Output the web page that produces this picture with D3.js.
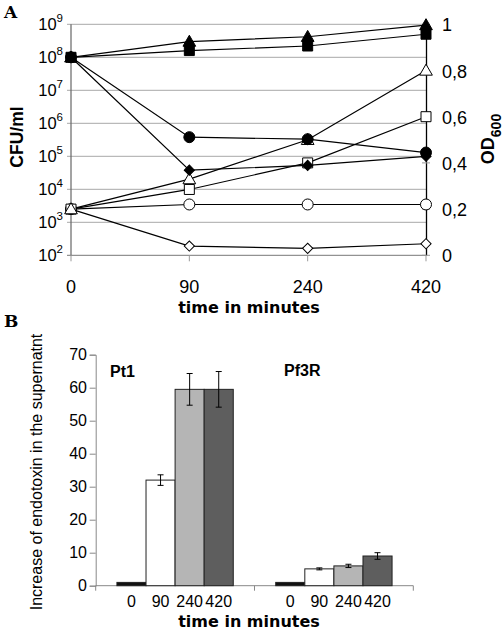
<!DOCTYPE html>
<html><head><meta charset="utf-8">
<script src="https://cdn.jsdelivr.net/npm/d3@7"></script>
<style>
body{margin:0;background:#fff;}
svg{display:block;}
text{font-family:"Liberation Sans",Arial,sans-serif;fill:#000;}
</style></head>
<body>
<svg id="c" width="504" height="630"></svg>
<script>
// ---------- Panel A data ----------
const categories = ["0","90","240","420"];
const cfuFilledTriangle = [1e8, 3.0e8, 4.2e8, 9.5e8];
const cfuFilledSquare   = [1e8, 1.6e8, 2.2e8, 5.0e8];
const cfuFilledCircle   = [1e8, 3.8e5, 3.3e5, 1.3e5];
const cfuFilledDiamond  = [1e8, 3.8e4, 5.3e4, 1.0e5];
const odOpenTriangle = [0.2, 0.33, 0.50, 0.80];
const odOpenSquare   = [0.2, 0.285, 0.40, 0.60];
const odOpenCircle   = [0.2, 0.22, 0.22, 0.22];
const odOpenDiamond  = [0.2, 0.04, 0.03, 0.05];
const leftExponents = [2,3,4,5,6,7,8,9];
const rightTicks = [0, 0.2, 0.4, 0.6, 0.8, 1];
const rightTickLabels = ["0","0,2","0,4","0,6","0,8","1"];

// ---------- Panel B data ----------
const strains = ["Pt1","Pf3R"];
const barTimes = ["0","90","240","420"];
const endotoxinPt1  = [1.0, 32, 59.5, 59.5];
const errorPt1      = [0, 1.6, 4.8, 5.4];
const endotoxinPf3R = [1.0, 5.1, 6.0, 9.0];
const errorPf3R     = [0, 0.3, 0.5, 1.0];
const yTicksB = [0,10,20,30,40,50,60,70];
const barColors = ["#111111","#ffffff","#b5b5b5","#5e5e5e"];

const svg = d3.select("#c");

// ================= Panel A =================
const A = {left:71, right:426, top:24.3, bottom:255.3};
const x = d3.scalePoint().domain(categories).range([A.left, A.right]);
const yL = d3.scaleLog().domain([1e2,1e9]).range([A.bottom, A.top]);
const yR = d3.scaleLinear().domain([0,1]).range([A.bottom, A.top]);

const gA = svg.append("g");
gA.append("g").selectAll("line").data(leftExponents).join("line")
  .attr("x1", A.left-4).attr("x2", A.right)
  .attr("y1", d=>yL(Math.pow(10,d))).attr("y2", d=>yL(Math.pow(10,d)))
  .attr("stroke", d=> d===2 ? "#777" : "#a8a8a8").attr("stroke-width",1);
gA.append("line").attr("x1",A.left).attr("x2",A.left).attr("y1",A.top).attr("y2",A.bottom)
  .attr("stroke","#666").attr("stroke-width",1.2);
const rAxis = d3.axisRight(yR).tickValues(rightTicks).tickSize(0).tickFormat("");
gA.append("g").attr("transform",`translate(${A.right},0)`).call(rAxis)
  .call(g=>g.select(".domain").attr("stroke","#000").attr("stroke-width",1.3));
gA.append("g").selectAll("line").data(rightTicks).join("line")
  .attr("x1",A.right-4).attr("x2",A.right+4)
  .attr("y1",d=>yR(d)).attr("y2",d=>yR(d)).attr("stroke","#999");
gA.append("g").selectAll("line").data(categories).join("line")
  .attr("x1",d=>x(d)).attr("x2",d=>x(d)).attr("y1",A.bottom).attr("y2",A.bottom+6)
  .attr("stroke","#999");

const lt = gA.append("g").selectAll("text").data(leftExponents).join("text")
  .attr("x", 63).attr("y", d=>yL(Math.pow(10,d))+6)
  .attr("text-anchor","end").style("font-size","16.5px");
lt.append("tspan").text("10");
lt.append("tspan").attr("dy",-8).style("font-size","11.5px").text(d=>d);

gA.append("g").selectAll("text").data(rightTicks).join("text")
  .attr("x", 442).attr("y", (d)=>yR(d)+7)
  .style("font-size","18px").text((d,i)=>rightTickLabels[i]);

gA.append("g").selectAll("text").data(categories).join("text")
  .attr("x", d=>x(d)).attr("y", 293).attr("text-anchor","middle")
  .style("font-size","18px").text(d=>d);

gA.append("text").attr("x",249).attr("y",313).attr("text-anchor","middle")
  .style("font-family","'DejaVu Sans',sans-serif").style("font-weight","bold").style("font-size","16px")
  .text("time in minutes");
gA.append("text").attr("transform","translate(23,137) rotate(-90)").attr("text-anchor","middle")
  .style("font-weight","bold").style("font-size","17.5px").text("CFU/ml");
const od = gA.append("text").attr("transform","translate(494,139) rotate(-90)").attr("text-anchor","middle")
  .style("font-weight","bold").style("font-size","18px");
od.append("tspan").text("OD");
od.append("tspan").attr("dy",7).style("font-size","14px").text("600");

gA.append("text").attr("x",4).attr("y",18)
  .style("font-family","'DejaVu Serif',serif").style("font-weight","bold").style("font-size","17px").text("A");

const seriesA = [
  {v:cfuFilledTriangle, axis:yL, sym:"tri", fill:"#000"},
  {v:cfuFilledSquare,   axis:yL, sym:"sq",  fill:"#000"},
  {v:cfuFilledCircle,   axis:yL, sym:"circ",fill:"#000"},
  {v:cfuFilledDiamond,  axis:yL, sym:"dia", fill:"#000"},
  {v:odOpenTriangle, axis:yR, sym:"tri", fill:"#fff"},
  {v:odOpenSquare,   axis:yR, sym:"sq",  fill:"#fff"},
  {v:odOpenCircle,   axis:yR, sym:"circ",fill:"#fff"},
  {v:odOpenDiamond,  axis:yR, sym:"dia", fill:"#fff"}
];
const symGen = {
  tri: d3.symbol().type(d3.symbolTriangle).size(70),
  sq: d3.symbol().type(d3.symbolSquare).size(100),
  circ: d3.symbol().type(d3.symbolCircle).size(95),
  dia: d3.symbol().type(d3.symbolSquare).size(52)
};
const lineGen = (s)=> d3.line().x((d,i)=>x(categories[i])).y(d=>s.axis(d));
seriesA.forEach(s=>{
  gA.append("path").attr("d", lineGen(s)(s.v)).attr("fill","none").attr("stroke","#000").attr("stroke-width",1.2);
});
seriesA.slice().reverse().forEach(s=>{
  gA.append("g").selectAll("path").data(s.v).join("path")
    .attr("d", symGen[s.sym]())
    .attr("transform",(d,i)=>`translate(${x(categories[i])},${s.axis(d)})` + (s.sym==="dia"?" rotate(45)":"") + (s.sym==="tri"?" translate(0,1)":""))
    .attr("fill", s.fill).attr("stroke","#000").attr("stroke-width",1);
});

// ================= Panel B =================
const B = {left:95.7, right:413.3, top:354.7, bottom:585.7};
const yB = d3.scaleLinear().domain([0,70]).range([B.bottom, B.top]);
const x0 = d3.scaleBand().domain(strains).range([B.left, B.right]).padding(0);
const x1 = d3.scaleBand().domain(barTimes).range([0, x0.bandwidth()]).paddingInner(0).paddingOuter(0.73);
const gB = svg.append("g");

gB.append("g").attr("transform",`translate(${B.left},0)`)
  .call(d3.axisLeft(yB).tickValues(yTicksB).tickSize(6).tickFormat(""))
  .call(g=>{g.select(".domain").attr("stroke","#888"); g.selectAll(".tick line").attr("stroke","#888");});
gB.append("g").selectAll("text").data(yTicksB).join("text")
  .attr("x",87).attr("y",d=>yB(d)+5.5).attr("text-anchor","end").style("font-size","16px").text(d=>d);

gB.append("line").attr("x1",B.left).attr("x2",B.right).attr("y1",B.bottom).attr("y2",B.bottom).attr("stroke","#888");
gB.append("g").selectAll("line").data([B.left, x0("Pf3R"), B.right]).join("line")
  .attr("x1",d=>d).attr("x2",d=>d).attr("y1",B.bottom).attr("y2",B.bottom+5).attr("stroke","#888");

const groups = [
  {name:"Pt1", vals:endotoxinPt1, errs:errorPt1},
  {name:"Pf3R", vals:endotoxinPf3R, errs:errorPf3R}
];
groups.forEach(gr=>{
  const g = gB.append("g").attr("transform",`translate(${x0(gr.name)},0)`);
  g.selectAll("rect").data(gr.vals).join("rect")
    .attr("x",(d,i)=>x1(barTimes[i])).attr("width",x1.bandwidth())
    .attr("y",d=>yB(d)).attr("height",d=>yB(0)-yB(d))
    .attr("fill",(d,i)=>barColors[i]).attr("stroke","#222").attr("stroke-width",1);
  gr.vals.forEach((v,i)=>{
    const e = gr.errs[i]; if(!e) return;
    const cx = x1(barTimes[i]) + x1.bandwidth()/2;
    g.append("line").attr("x1",cx).attr("x2",cx).attr("y1",yB(v+e)).attr("y2",yB(v-e)).attr("stroke","#000");
    [v+e, v-e].forEach(t=>g.append("line").attr("x1",cx-3).attr("x2",cx+3).attr("y1",yB(t)).attr("y2",yB(t)).attr("stroke","#000"));
  });
  g.selectAll("text.lab").data(barTimes).join("text").attr("class","lab")
    .attr("x",d=>x1(d)+x1.bandwidth()/2).attr("y",606.5).attr("text-anchor","middle")
    .style("font-size","16px").text(d=>d);
});
gB.append("text").attr("x",110).attr("y",377).style("font-weight","bold").style("font-size","16px").text("Pt1");
gB.append("text").attr("x",284).attr("y",376).style("font-weight","bold").style("font-size","16px").text("Pf3R");
gB.append("text").attr("x",249).attr("y",627).attr("text-anchor","middle")
  .style("font-family","'DejaVu Sans',sans-serif").style("font-weight","bold").style("font-size","16px")
  .text("time in minutes");
gB.append("text").attr("transform","translate(42,472) rotate(-90)").attr("text-anchor","middle")
  .style("font-size","16px").text("Increase of endotoxin in the supernatnt");
gB.append("text").attr("x",4).attr("y",327)
  .style("font-family","'DejaVu Serif',serif").style("font-weight","bold").style("font-size","17px").text("B");
</script>
</body></html>
